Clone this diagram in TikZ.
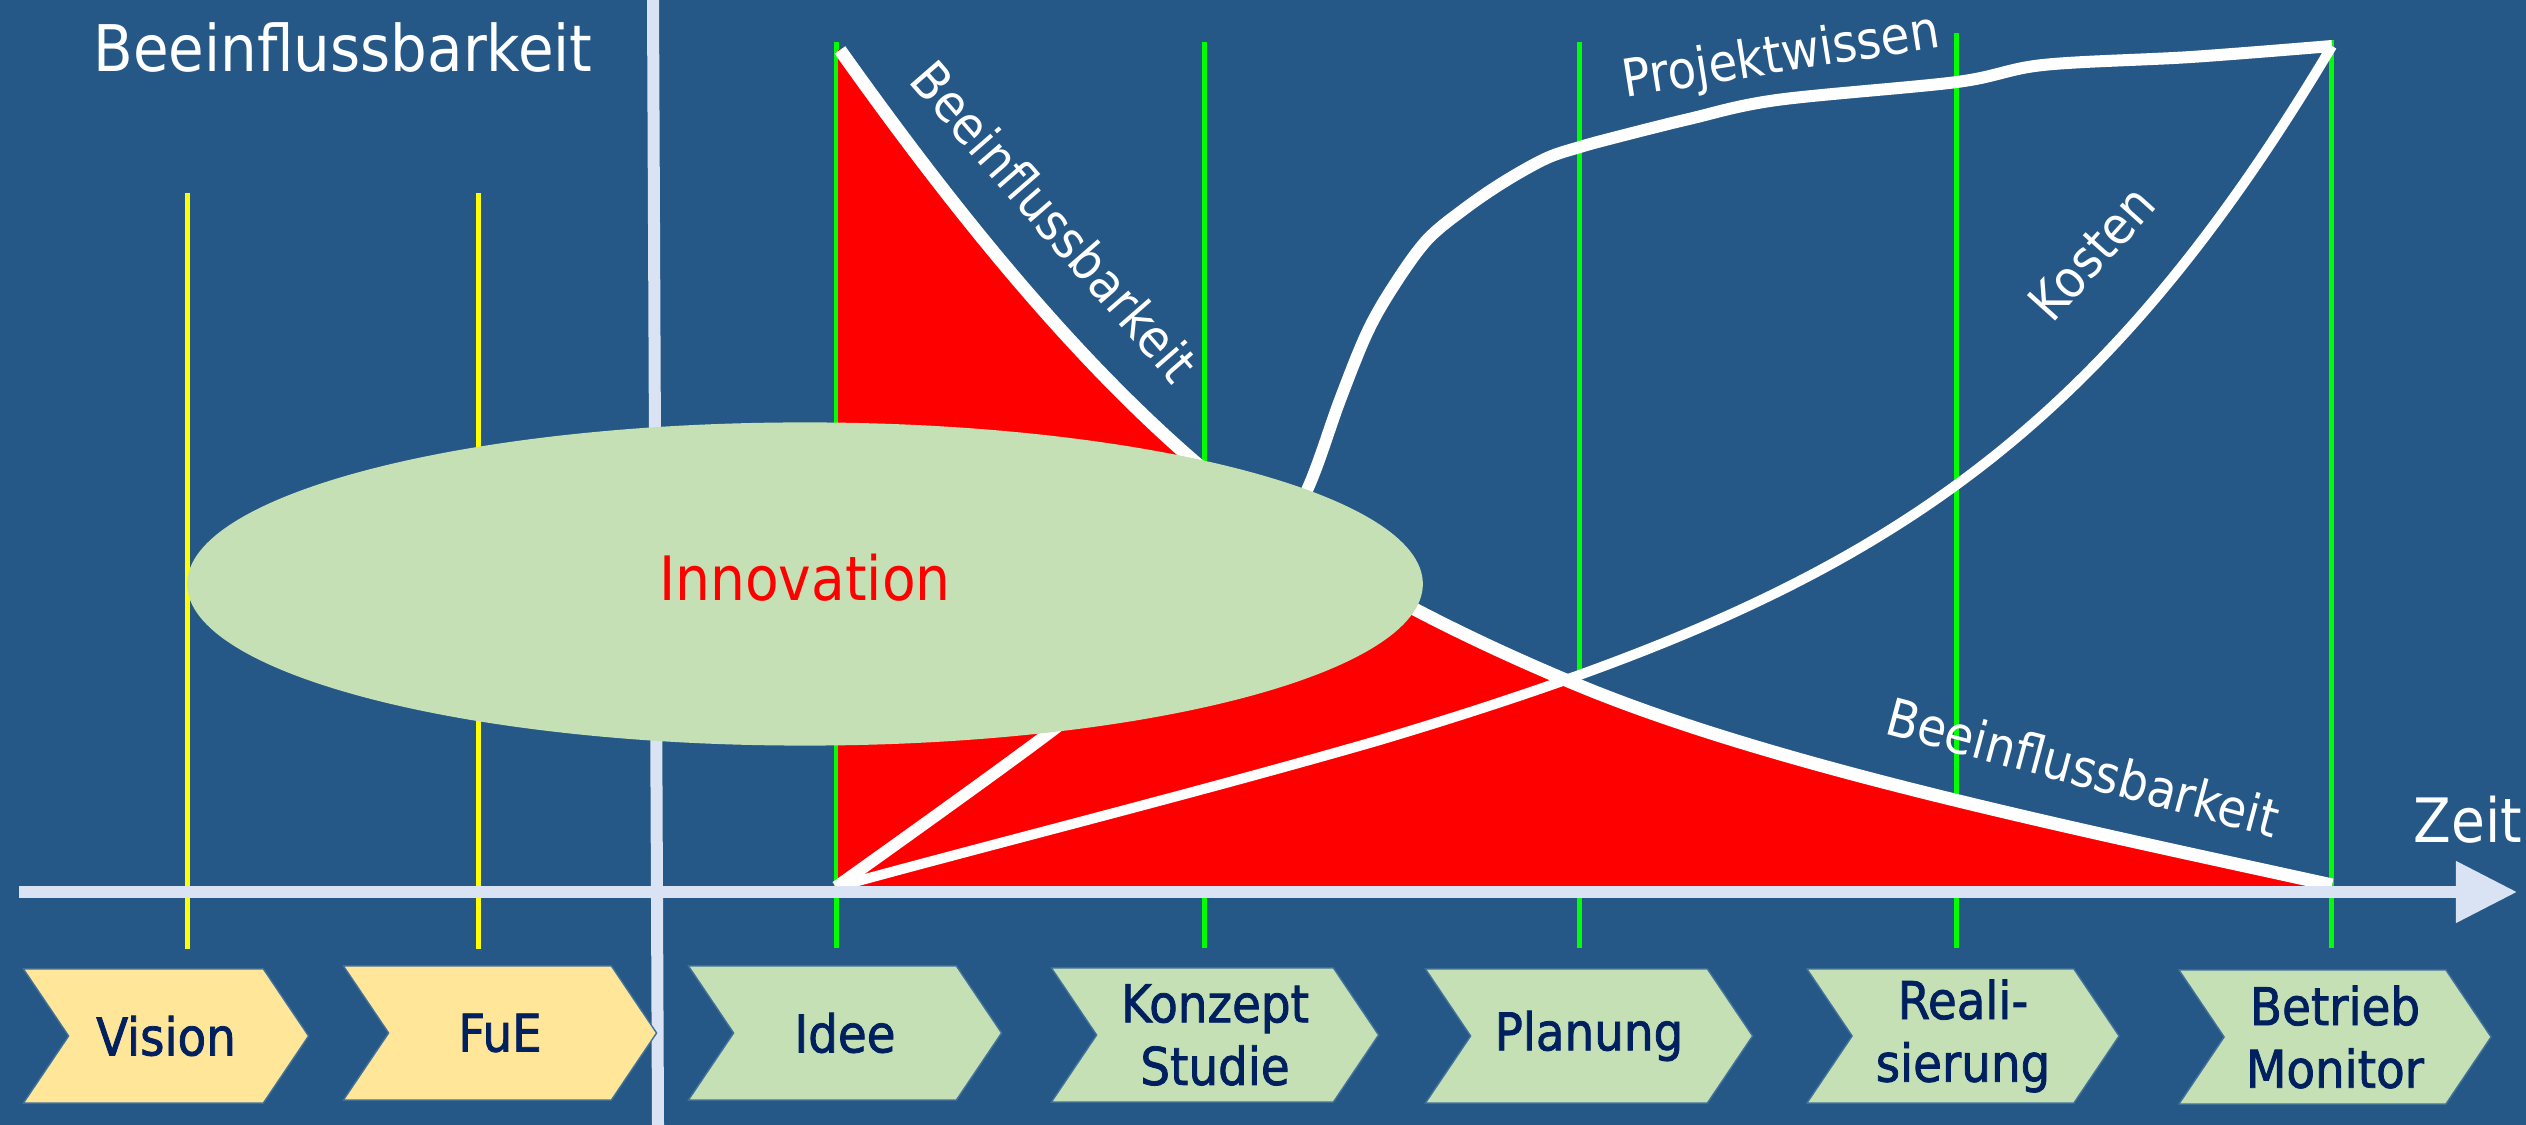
\documentclass[tikz,border=0pt]{standalone}
\usepackage{fontspec}
\setmainfont{DejaVu Sans Condensed}
\newfontfamily\phasefont{DejaVu Sans Condensed}[FakeBold=1.5]
\usepackage{tikz}
\usetikzlibrary{arrows.meta, positioning, shapes.geometric, shapes.symbols}

\definecolor{bgblue}{RGB}{37,88,134}
\definecolor{axisgrey}{HTML}{DAE3F3}
\definecolor{vlgreen}{HTML}{00FF00}
\definecolor{vlyellow}{HTML}{FFFF00}
\definecolor{phaseyellow}{HTML}{FFE699}
\definecolor{phasegreen}{HTML}{C5E0B4}
\definecolor{phasetext}{HTML}{002060}
\definecolor{phaseborder}{HTML}{41719C}

\begin{document}
\begin{tikzpicture}[x=0.01cm, y=-0.01cm, >={Triangle[length=0.61cm, width=0.59cm]},
    yline/.style={draw=vlyellow, line width=0.05cm},
    gline/.style={draw=vlgreen, line width=0.05cm},
    curve/.style={draw=white, line width=0.12cm, line join=round},
    lbl/.style={text=white, font=\fontsize{14.8}{17.8}\selectfont},
    phase/.style={signal, signal to=east, signal from=west, signal pointer angle=112,
        minimum height=1.34cm, inner sep=0pt, draw=phaseborder, line width=0.4pt,
        text=phasetext, align=center, font=\phasefont\fontsize{14.8}{17.8}\selectfont}]

  \fill[bgblue, use as bounding box] (0,0) rectangle (2526,1125);

  % separator
  \coordinate (sepT) at (653,0);
  \coordinate (sepB) at (658,1125);
  \draw[axisgrey, line width=0.12cm] (sepT) -- (sepB);

  % phase lines
  \foreach \x in {187,478}
    \draw[yline] (\x,193) -- (\x,949);
  \foreach \x/\t in {836/42,1204/42,1579/42,1956/33,2331/40}
    \draw[gline] (\x,\t) -- (\x,948);

  \coordinate (o) at (836,887);
  \coordinate (top) at (2332,46);
  \coordinate (b0) at (840,50);
  \coordinate (b1) at (2332,885);

  % Beeinflussbarkeit area
  \fill[red] (838,892) -- (838,50) -- (b0) .. controls (955,212) and (1075,360) .. (1202,468)
    .. controls (1302,558) and (1453,633) .. (1573,683)
    .. controls (1773,767) and (2082,830) .. (b1) -- (2332,892) -- cycle;
  \draw[curve, line width=0.13cm] (b0) .. controls (955,212) and (1075,360) .. (1202,468)
    .. controls (1302,558) and (1453,633) .. (1573,683)
    .. controls (1773,767) and (2082,830) .. (b1);

  % Kosten
  \draw[curve, line width=0.1cm] (o) .. controls (1000,842) and (1200,792) .. (1380,740)
    .. controls (1850,599) and (2082,466) .. (top);

  % Projektwissen
  \draw[curve] plot[smooth, tension=0.55] coordinates {(o) (1053,730) (1180,625) (1270,555)
    (1308,488) (1340,400) (1367,333) (1393,287) (1427,240) (1467,207) (1507,180) (1547,158)
    (1580,147) (1613,138) (1689,119) (1777,100) (1957,82) (2043,65) (2191,57) (top)};

  \node[ellipse, fill=phasegreen, inner sep=0pt, minimum width=12.35cm, minimum height=3.23cm,
    text=red, text depth=0.14cm, font=\fontsize{17.4}{20}\selectfont] (innov) at (805,584) {Innovation};

  % time axis
  \coordinate (t0) at (19,892);
  \coordinate (t1) at (2517,892);
  \draw[->, axisgrey, line width=0.11cm] (t0) -- (t1);

  \node[lbl, font=\fontsize{18.3}{22}\selectfont, anchor=base] (title) at (343,72) {Beeinflussbarkeit};
  \node[lbl, rotate=-49] (bfl1) at (1055,221) {Beeinflussbarkeit};
  \node[lbl, rotate=-15] (bfl2) at (2083,767) {Beeinflussbarkeit};
  \node[lbl, rotate=9] (wissen) at (1781,58) {Projektwissen};
  \node[lbl, rotate=48] (kosten) at (2092,253) {Kosten};
  \node[lbl, font=\fontsize{17.4}{20}\selectfont, anchor=base] (zeit) at (2468,843) {Zeit};

  % phases
  \node[phase, fill=phaseyellow, minimum width=2.85cm] (vision) at (166,1036) {Vision};
  \node[phase, fill=phaseyellow, minimum width=3.13cm] (fue) at (500,1033) {FuE};
  \node[phase, fill=phasegreen, minimum width=3.13cm] (idee) at (845,1033) {Idee};
  \node[phase, fill=phasegreen, minimum width=3.27cm] (konzept) at (1215,1035) {Konzept\\Studie};
  \node[phase, fill=phasegreen, minimum width=3.27cm] (planung) at (1589,1036) {Planung};
  \node[phase, fill=phasegreen, minimum width=3.12cm] (real) at (1963,1036) {Reali-\\sierung};
  \node[phase, fill=phasegreen, minimum width=3.12cm] (betrieb) at (2335,1037) {Betrieb\\Monitor};
\end{tikzpicture}
\end{document}
